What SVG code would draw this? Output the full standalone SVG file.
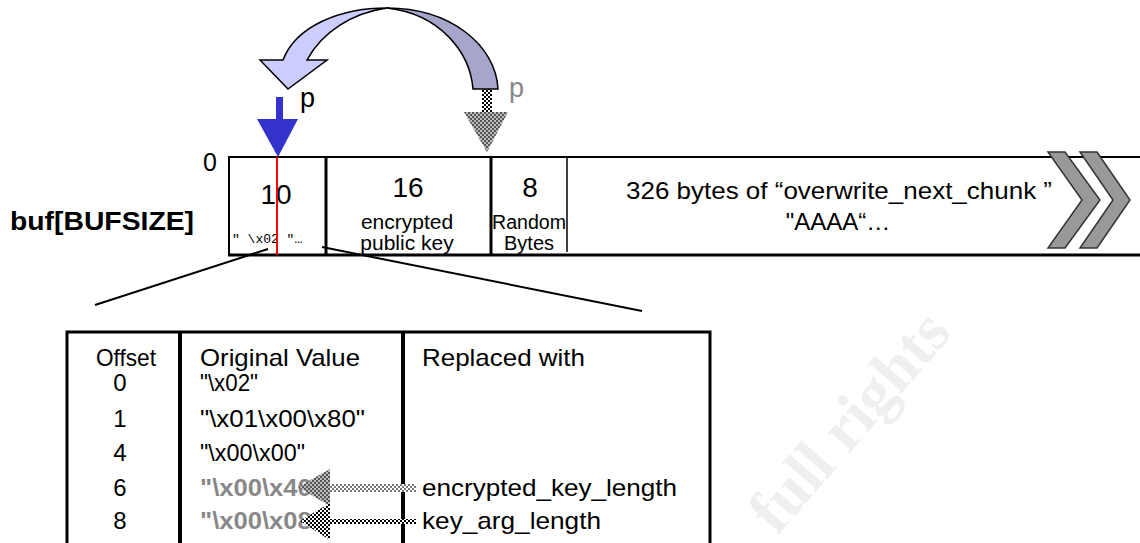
<svg xmlns="http://www.w3.org/2000/svg" width="1140" height="543" viewBox="0 0 1140 543">
<defs>
<style>
text{font-family:"Liberation Sans",Arial,sans-serif;fill:#000}
.c{text-anchor:middle}
.t{font-size:24px}
.g{fill:#888;font-weight:bold}
.ln{stroke:#000;fill:none}
</style>
<pattern id="chk" width="4" height="4" patternUnits="userSpaceOnUse"><rect width="4" height="4" fill="#fff"/><rect width="2" height="2" fill="#000"/><rect x="2" y="2" width="2" height="2" fill="#000"/></pattern>
<pattern id="chk2" width="4" height="4" patternUnits="userSpaceOnUse"><rect width="4" height="4" fill="#bbb"/><rect width="2" height="2" fill="#555"/><rect x="2" y="2" width="2" height="2" fill="#555"/></pattern>
<pattern id="chk3" width="4" height="4" patternUnits="userSpaceOnUse"><rect width="4" height="4" fill="#fff"/><rect width="2" height="2" fill="#777"/><rect x="2" y="2" width="2" height="2" fill="#777"/></pattern>
</defs>
<text x="850" y="442" transform="rotate(-49 850 422)" class="c" style="font-family:'Liberation Serif',serif;font-weight:bold;font-size:64px;fill:#efefef">full rights</text>
<g id="buffer">
<line class="ln" x1="228" y1="157" x2="1140" y2="157" stroke-width="2"/>
<line class="ln" x1="228" y1="255" x2="1140" y2="255" stroke-width="3"/>
<line class="ln" x1="229" y1="156" x2="229" y2="256" stroke-width="2"/>
<line class="ln" x1="326" y1="157" x2="326" y2="255" stroke-width="3"/>
<line class="ln" x1="491" y1="157" x2="491" y2="255" stroke-width="3"/>
<line class="ln" x1="567" y1="157" x2="567" y2="252" stroke-width="1.5"/>
<text x="203" y="171" style="font-size:25px">0</text>
<text x="10" y="230" style="font-size:26px;font-weight:bold" textLength="184" lengthAdjust="spacingAndGlyphs">buf[BUFSIZE]</text>
<text x="276" y="204" class="c" style="font-size:28px">10</text>
<text x="232" y="243" style="font-family:'Liberation Mono',monospace;font-size:13px">" \x02 "…</text>
<line x1="277" y1="157" x2="277" y2="255" stroke="#ff0000" stroke-width="2"/>
<text x="408" y="197" class="c" style="font-size:28px">16</text>
<text x="407" y="229" class="c" style="font-size:21px">encrypted</text>
<text x="407" y="250" class="c" style="font-size:21px">public key</text>
<text x="530" y="197" class="c" style="font-size:28px">8</text>
<text x="492" y="229" style="font-size:20px" textLength="74" lengthAdjust="spacingAndGlyphs">Random</text>
<text x="529" y="250" class="c" style="font-size:20px">Bytes</text>
<text x="626" y="199" style="font-size:24px" textLength="426" lengthAdjust="spacingAndGlyphs">326 bytes of “overwrite_next_chunk ”</text>
<text x="838" y="230" class="c" style="font-size:24px">"AAAA“…</text>
<polygon points="1048,152 1065,152 1100,200 1065,248 1048,248 1082,200" fill="#999" stroke="#333" stroke-width="1.5"/>
<polygon points="1080,152 1097,152 1130,200 1097,248 1080,248 1113,200" fill="#999" stroke="#333" stroke-width="1.5"/>
</g>
<g id="pointers">
<path d="M276,97 H283 V119 H298 L278,157 L257,119 H276 Z" fill="#3333cc"/>
<text x="300" y="107" style="font-size:27px">p</text>
<rect x="482" y="89" width="10" height="23" fill="url(#chk)"/>
<polygon points="464,112 508,112 487,152" fill="url(#chk2)"/>
<text x="509" y="97" style="font-size:27px;fill:#888">p</text>
<path d="M387,8 C450,8 496,45 498,89 L473,89 C470,52 440,14 387,8 Z" fill="#a6a6cc" stroke="#000" stroke-width="1.5"/>
<path d="M283,60 C296,26 340,8 387,8 C352,13 322,32 307,60 H327 L288,89 L260,60 Z" fill="#ccccff" stroke="#000" stroke-width="1.5"/>
</g>
<g id="connectors">
<line class="ln" x1="268" y1="249" x2="95" y2="305" stroke-width="2"/>
<line class="ln" x1="322" y1="247" x2="642" y2="311" stroke-width="2"/>
</g>
<g id="table">
<path class="ln" d="M67,545 V332 H710 V545" stroke-width="3"/>
<line class="ln" x1="180" y1="332" x2="180" y2="545" stroke-width="4"/>
<line class="ln" x1="403" y1="332" x2="403" y2="545" stroke-width="4"/>
<text x="96" y="366" class="t" textLength="60" lengthAdjust="spacingAndGlyphs">Offset</text>
<text x="120" y="391" class="c t">0</text>
<text x="120" y="427" class="c t">1</text>
<text x="120" y="461" class="c t">4</text>
<text x="120" y="496" class="c t">6</text>
<text x="120" y="529" class="c t">8</text>
<text x="200" y="366" class="t" textLength="160" lengthAdjust="spacingAndGlyphs">Original Value</text>
<text x="200" y="391" class="t" textLength="58" lengthAdjust="spacingAndGlyphs">"\x02"</text>
<text x="200" y="427" class="t" textLength="165" lengthAdjust="spacingAndGlyphs">"\x01\x00\x80"</text>
<text x="200" y="461" class="t" textLength="105" lengthAdjust="spacingAndGlyphs">"\x00\x00"</text>
<text x="200" y="496" class="t g" textLength="124" lengthAdjust="spacingAndGlyphs">"\x00\x40"</text>
<text x="200" y="529" class="t g" textLength="124" lengthAdjust="spacingAndGlyphs">"\x00\x08"</text>
<text x="422" y="366" class="t" textLength="163" lengthAdjust="spacingAndGlyphs">Replaced with</text>
<text x="422" y="496" class="t" textLength="255" lengthAdjust="spacingAndGlyphs">encrypted_key_length</text>
<text x="422" y="529" class="t" textLength="179" lengthAdjust="spacingAndGlyphs">key_arg_length</text>
<rect x="326" y="484" width="90" height="8" fill="url(#chk3)"/>
<polygon points="298,487 330,469 330,506" fill="url(#chk2)"/>
<rect x="326" y="519" width="90" height="5" fill="url(#chk)"/>
<polygon points="300,521 330,503 330,540" fill="url(#chk)"/>
</g>
</svg>
